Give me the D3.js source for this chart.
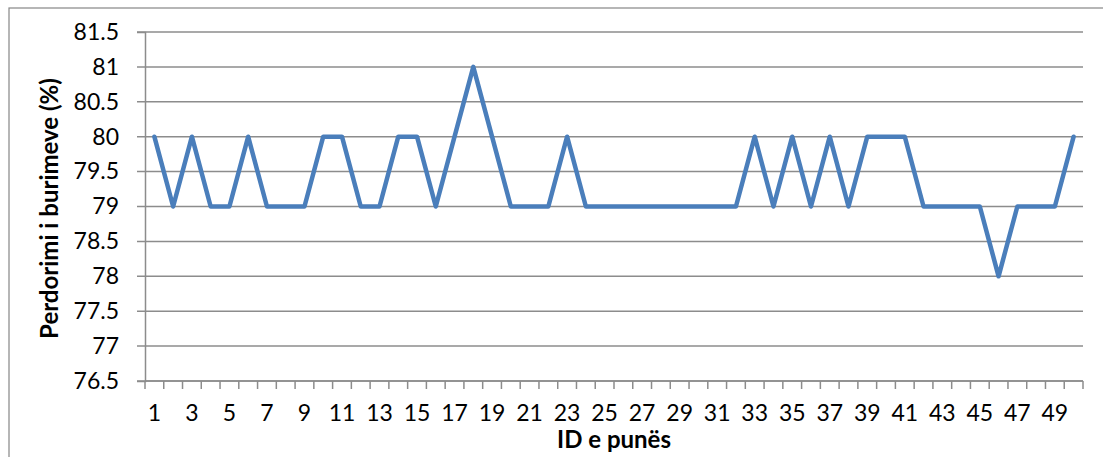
<!DOCTYPE html>
<html>
<head>
<meta charset="utf-8">
<script src="https://cdn.jsdelivr.net/npm/d3@7/dist/d3.min.js"></script>
<style>
  html, body { margin: 0; padding: 0; background: #fff; }
  svg { display: block; }
  text { font-family: Lato, "Open Sans", sans-serif; fill: #000; }
</style>
</head>
<body>
<svg id="chart" width="1103" height="457"></svg>
<script>
// Job IDs 1..50 and resource usage (%) per job
const jobIds = d3.range(1, 51);
const usage = [
  80, 79, 80, 79, 79, 80, 79, 79, 79, 80,
  80, 79, 79, 80, 80, 79, 80, 81, 80, 79,
  79, 79, 80, 79, 79, 79, 79, 79, 79, 79,
  79, 79, 80, 79, 80, 79, 80, 79, 80, 80,
  80, 79, 79, 79, 79, 78, 79, 79, 79, 80
];
const yTicks = [76.5, 77, 77.5, 78, 78.5, 79, 79.5, 80, 80.5, 81, 81.5];
const xTickLabels = jobIds.filter(d => d % 2 === 1);

const svg = d3.select("#chart");
const margin = { left: 145, top: 32 };
const W = 1103, H = 457;
const plotR = 1083, plotB = 381;
const gridColor = "#8c8c8c";
const tickFont = 23;
const titleFont = 24;

// outer chart frame
svg.append("rect")
  .attr("x", 9).attr("y", 8)
  .attr("width", W + 10).attr("height", H + 10)
  .attr("fill", "none").attr("stroke", "#868686").attr("stroke-width", 1.2);

const x = d3.scaleBand().domain(jobIds).range([margin.left, plotR]);
const y = d3.scaleLinear().domain([76.5, 81.5]).range([plotB, margin.top]);

// horizontal gridlines (with short outward ticks on the left)
svg.append("g")
  .selectAll("line")
  .data(yTicks)
  .join("line")
  .attr("x1", margin.left - 8).attr("x2", plotR)
  .attr("y1", d => y(d)).attr("y2", d => y(d))
  .attr("stroke", gridColor).attr("stroke-width", 1.5);

// y axis
const yAxis = svg.append("g")
  .attr("transform", `translate(${margin.left},0)`)
  .call(d3.axisLeft(y).tickValues(yTicks).tickSize(8).tickFormat(d => String(d)));
yAxis.attr("font-size", null).attr("font-family", null);
yAxis.select(".domain").attr("stroke", gridColor).attr("stroke-width", 1.5);
yAxis.selectAll(".tick line").attr("stroke", "none");
yAxis.selectAll(".tick text")
  .attr("x", -26)
  .style("font-size", tickFont + "px")
  .style("font-family", "Lato, sans-serif");

// x axis: tick marks on category boundaries
const xAxisG = svg.append("g").attr("transform", `translate(0,${plotB})`);
xAxisG.append("line")
  .attr("x1", margin.left).attr("x2", plotR)
  .attr("stroke", gridColor).attr("stroke-width", 1.5);
const bounds = jobIds.map(d => x(d)).concat([plotR]);
xAxisG.selectAll("line.tk")
  .data(bounds)
  .join("line").attr("class", "tk")
  .attr("x1", d => d).attr("x2", d => d)
  .attr("y1", 0).attr("y2", 8)
  .attr("stroke", gridColor).attr("stroke-width", 1.5);
xAxisG.selectAll("text")
  .data(xTickLabels)
  .join("text")
  .attr("x", d => x(d) + x.bandwidth() / 2)
  .attr("y", 40)
  .attr("text-anchor", "middle")
  .style("font-size", tickFont + "px")
  .text(d => d);

// usage line
const line = d3.line()
  .x((d, i) => x(jobIds[i]) + x.bandwidth() / 2)
  .y(d => y(d));
svg.append("path")
  .datum(usage)
  .attr("d", line)
  .attr("fill", "none")
  .attr("stroke", "#4a7ebb")
  .attr("stroke-width", 4.5)
  .attr("stroke-linejoin", "round")
  .attr("stroke-linecap", "round");

// axis titles
svg.append("text")
  .attr("x", 614).attr("y", 448)
  .attr("text-anchor", "middle")
  .style("font-size", titleFont + "px").attr("font-weight", "bold")
  .text("ID e punës");
svg.append("text")
  .attr("transform", `translate(58,${(margin.top + plotB) / 2 + 2}) rotate(-90)`)
  .attr("text-anchor", "middle")
  .style("font-size", titleFont + "px").attr("font-weight", "bold")
  .text("Perdorimi i burimeve (%)");
</script>
</body>
</html>
